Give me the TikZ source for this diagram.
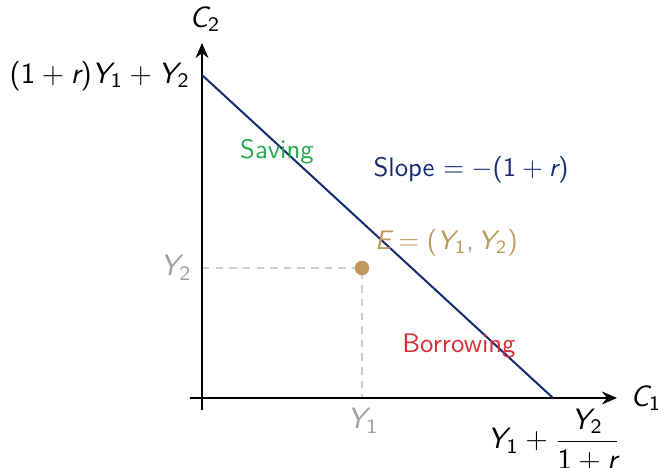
\documentclass[tikz,border=0pt]{standalone}
\usepackage{amsmath}
\usetikzlibrary{arrows.meta}
\DeclareSymbolFont{sfop}{TU}{lmss}{m}{n}
\DeclareSymbolFont{sflet}{TU}{lmss}{m}{sl}
\DeclareMathSymbol{C}{\mathalpha}{sflet}{"43}
\DeclareMathSymbol{E}{\mathalpha}{sflet}{"45}
\DeclareMathSymbol{Y}{\mathalpha}{sflet}{"59}
\DeclareMathSymbol{r}{\mathalpha}{sflet}{"72}
\DeclareMathSymbol{1}{\mathalpha}{sfop}{"31}
\DeclareMathSymbol{2}{\mathalpha}{sfop}{"32}
\DeclareMathSymbol{+}{\mathbin}{sfop}{"2B}
\DeclareMathSymbol{=}{\mathrel}{sfop}{"3D}
\DeclareMathSymbol{(}{\mathopen}{sfop}{"28}
\DeclareMathSymbol{)}{\mathclose}{sfop}{"29}
\DeclareMathSymbol{,}{\mathpunct}{sfop}{"2C}
\definecolor{budgetblue}{RGB}{22,42,112}
\definecolor{savegreen}{RGB}{40,170,80}
\definecolor{borrowred}{RGB}{215,45,55}
\definecolor{egold}{RGB}{190,152,92}
\definecolor{labgray}{RGB}{160,160,160}
\definecolor{dashgray}{RGB}{205,205,205}
\tikzset{
  axis/.style={line width=0.75pt,-{Stealth[length=5.6pt,width=4.8pt]}},
  budget/.style={line width=0.75pt,budgetblue},
  guide/.style={dashgray,line width=0.5pt,dash pattern=on 2.8pt off 2.3pt},
  lab/.style={inner sep=1pt,font=\sffamily},
  axlab/.style={inner sep=1pt,font=\fontsize{11}{13}\selectfont\sffamily},
}
\begin{document}
\begin{tikzpicture}[x=0.374pt,y=-0.374pt]
\useasboundingbox (0,0) rectangle (658,468);
% coordinates
\coordinate (ybot) at (202,410);
\coordinate (ytop) at (202,43);
\coordinate (xleft) at (190,398);
\coordinate (xright) at (617,398);
\coordinate (A) at (202,75);
\coordinate (B) at (553,398);
\coordinate (Ey) at (202,268);
\coordinate (Ex) at (362,398);
% guides
\draw[guide] (Ey) -- (362,268) -- (Ex);
% axes
\draw[axis] (ybot) -- (ytop);
\draw[axis] (xleft) -- (xright);
% budget line
\draw[budget] (A) -- (B);
% point E
\fill[egold] (362,268) circle (2.7pt) node (E) {};
% labels
\node[axlab] (c2) at (205,19) {$C_2$};
\node[axlab] (c1) at (646,398) {$C_1$};
\node[axlab,anchor=east] (yint) at (193,76) {$(1+r)Y_1+Y_2$};
\node[lab,text=savegreen] (sav) at (277,152) {Saving};
\node[lab,text=budgetblue] (slope) at (471,170) {Slope $=-(1+r)$};
\node[lab,text=egold,anchor=west] (elab) at (372,243) {$E=(Y_1,Y_2)$};
\node[axlab,text=labgray] (y2) at (176,268) {$Y_2$};
\node[axlab,text=labgray] (y1) at (363,421) {$Y_1$};
\node[lab,text=borrowred] (bor) at (459,346) {Borrowing};
\node[axlab] (xint) at (554,440) {$Y_1+\dfrac{Y_2}{1+r}$};
\end{tikzpicture}
\end{document}
